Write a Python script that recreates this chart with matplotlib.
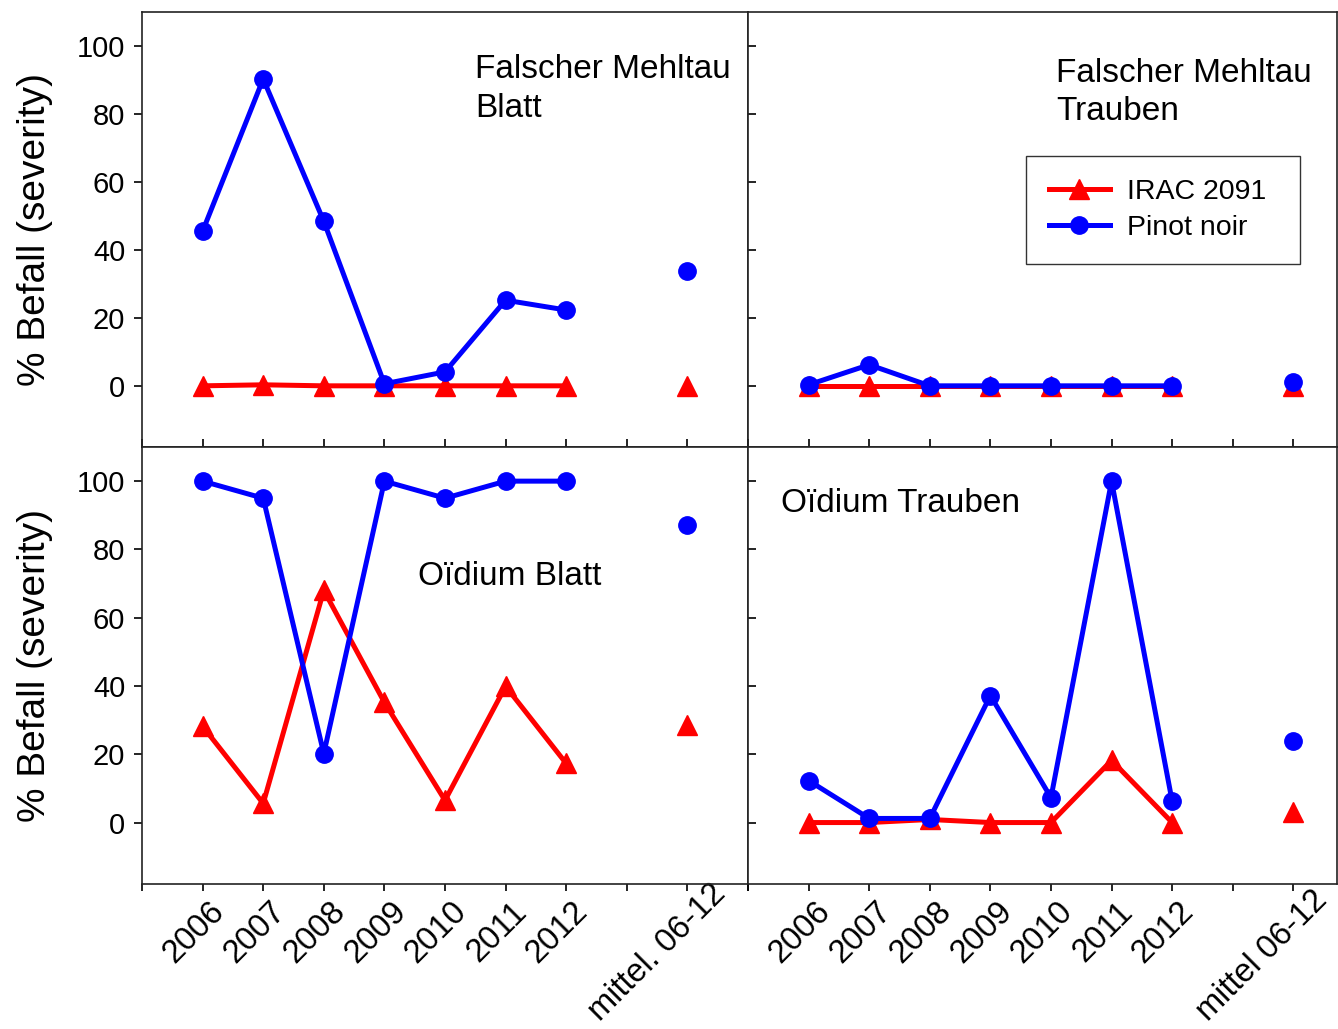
import matplotlib
matplotlib.use("Agg")
import matplotlib.pyplot as plt
import matplotlib.transforms as mtransforms

plt.rcParams['font.family'] = ['Liberation Sans', 'DejaVu Sans']

years = ["2006", "2007", "2008", "2009", "2010", "2011", "2012"]
mean_label_left = "mittel. 06-12"
mean_label_right = "mittel 06-12"

# Falscher Mehltau Blatt
fm_blatt_irac = [0.0, 0.3, 0.0, 0.0, 0.0, 0.0, 0.0]
fm_blatt_irac_mean = 0.0
fm_blatt_pinot = [45.5, 90.3, 48.4, 0.6, 4.1, 25.2, 22.3]
fm_blatt_pinot_mean = 33.7

# Falscher Mehltau Trauben
fm_trauben_irac = [0.0, 0.0, 0.0, 0.0, 0.0, 0.0, 0.0]
fm_trauben_irac_mean = 0.0
fm_trauben_pinot = [0.3, 6.2, 0.0, 0.0, 0.0, 0.0, 0.0]
fm_trauben_pinot_mean = 1.2

# Oidium Blatt
oi_blatt_irac = [28.2, 5.6, 68.0, 35.2, 6.5, 39.9, 17.3]
oi_blatt_irac_mean = 28.7
oi_blatt_pinot = [100.0, 95.0, 20.2, 100.0, 95.0, 100.0, 100.0]
oi_blatt_pinot_mean = 87.1

# Oidium Trauben
oi_trauben_irac = [0.0, 0.0, 0.9, 0.0, 0.0, 18.2, 0.0]
oi_trauben_irac_mean = 3.0
oi_trauben_pinot = [12.3, 1.2, 1.2, 37.2, 7.3, 100.0, 6.2]
oi_trauben_pinot_mean = 23.8

RED = (1, 0, 0)
BLUE = (0, 0, 1)

fig = plt.figure(figsize=(13.38, 10.29), dpi=100)
L, M, R = 142 / 1338, 748 / 1338, 1337 / 1338
T, H, B = 1 - 12 / 1029, 1 - 447 / 1029, 1 - 884 / 1029
ax_tl = fig.add_axes([L, H, M - L, T - H])
ax_tr = fig.add_axes([M, H, R - M, T - H])
ax_bl = fig.add_axes([L, B, M - L, H - B])
ax_br = fig.add_axes([M, B, R - M, H - B])

xs = list(range(len(years)))
xmean = len(years) + 1

def draw(ax, irac, irac_mean, pinot, pinot_mean):
    ax.plot(xs, irac, color=RED, lw=3.6, marker='^', ms=14, mec=RED, zorder=3,
            label="IRAC 2091")
    ax.plot([xmean], [irac_mean], ls='none', color=RED, marker='^', ms=14, zorder=3)
    ax.plot(xs, pinot, color=BLUE, lw=3.6, marker='o', ms=12.5, mec=BLUE, zorder=4,
            label="Pinot noir")
    ax.plot([xmean], [pinot_mean], ls='none', color=BLUE, marker='o', ms=12.5, zorder=4)

draw(ax_tl, fm_blatt_irac, fm_blatt_irac_mean, fm_blatt_pinot, fm_blatt_pinot_mean)
draw(ax_tr, fm_trauben_irac, fm_trauben_irac_mean, fm_trauben_pinot, fm_trauben_pinot_mean)
draw(ax_bl, oi_blatt_irac, oi_blatt_irac_mean, oi_blatt_pinot, oi_blatt_pinot_mean)
draw(ax_br, oi_trauben_irac, oi_trauben_irac_mean, oi_trauben_pinot, oi_trauben_pinot_mean)

for ax, left in [(ax_tl, True), (ax_tr, False), (ax_bl, True), (ax_br, False)]:
    ticks = list(range(-1, 10 if left else 9))
    ax.set_yticks([0, 20, 40, 60, 80, 100])
    ax.set_xticks(ticks)
    ax.set_ylim(-18, 110)
    ax.set_xlim(-1, 9 if left else 8.72)
    for s in ax.spines.values():
        s.set_linewidth(1.2)
        s.set_color('#222222')
    if left:
        ax.tick_params(axis='y', direction='out', length=6, width=1.2, labelsize=21, pad=6)
        ax.set_ylabel("% Befall (severity)", fontsize=28)
        ax.yaxis.set_label_coords(-0.147, 0.5)
    else:
        ax.tick_params(axis='y', direction='in', length=6, width=1.2, labelleft=False)

for ax in (ax_tl, ax_tr):
    ax.tick_params(axis='x', direction='in', length=6, width=1.2, labelbottom=False)

for ax, mlabel, n, mshift in [(ax_bl, mean_label_left, 11, (17, 18)),
                              (ax_br, mean_label_right, 10, (12, 12))]:
    ax.tick_params(axis='x', direction='out', length=5, width=1.2, labelsize=23.5, pad=3)
    labels = [""] + years + ["", mlabel] + [""] * (n - len(years) - 3)
    ax.set_xticklabels(labels, rotation=45, ha='right',
                       va='center', rotation_mode='anchor')
    for lab in ax.get_xticklabels():
        dx, dy = 17, -12
        if lab.get_text() == mlabel:
            dx, dy = dx + mshift[0], dy + mshift[1]
        offset = mtransforms.ScaledTranslation(dx / 100, dy / 100, fig.dpi_scale_trans)
        lab.set_transform(lab.get_transform() + offset)

ax_tl.text(4.5, 97.5, "Falscher Mehltau\nBlatt", fontsize=24, va='top', ha='left',
           linespacing=1.3)
ax_tr.text(4.09, 96.5, "Falscher Mehltau\nTrauben", fontsize=24, va='top', ha='left',
           linespacing=1.3)
ax_bl.text(3.56, 72.0, "Oïdium Blatt", fontsize=24, va='center', ha='left')
ax_br.text(-0.45, 93.5, "Oïdium Trauben", fontsize=24, va='center', ha='left')

leg_w, leg_h = 274 / 589, 103 / 435
leg = ax_tr.legend(loc='upper left', bbox_to_anchor=(0.472, 0.669 - leg_h, leg_w, leg_h),
                   mode='expand', borderaxespad=0,
                   fontsize=20.5, frameon=True, fancybox=False, handlelength=2.15,
                   handletextpad=0.6, borderpad=0.8, labelspacing=0.35)
leg.get_frame().set_edgecolor('black')
leg.get_frame().set_linewidth(1.0)

fig.savefig("out.png", dpi=100)
